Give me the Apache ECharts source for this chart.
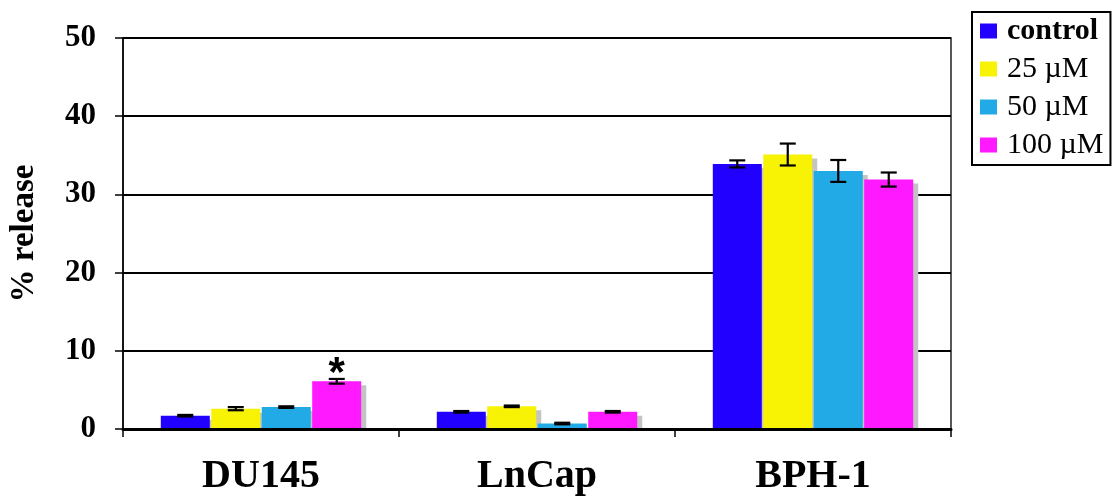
<!DOCTYPE html>
<html>
<head>
<meta charset="utf-8">
<script src="https://cdn.jsdelivr.net/npm/echarts@6/dist/echarts.min.js"></script>
<style>
  html, body { margin: 0; padding: 0; background: #fff; }
  #chart { width: 1117px; height: 497px; }
</style>
</head>
<body>
<div id="chart"></div>
<script>
// Cell lines on the x axis
const categories = ['DU145', 'LnCap', 'BPH-1'];
// Treatment groups (legend)
const seriesNames = ['control', '25 µM', '50 µM', '100 µM'];
// Mean % release per cell line
const controlValues = [1.7, 2.2, 33.9];
const uM25Values = [2.6, 2.9, 35.1];
const uM50Values = [2.8, 0.7, 33.0];
const uM100Values = [6.1, 2.2, 31.9];
// Error (± half-range) per cell line
const controlErr = [0.1, 0.1, 0.45];
const uM25Err = [0.2, 0.1, 1.4];
const uM50Err = [0.1, 0.1, 1.4];
const uM100Err = [0.3, 0.1, 0.9];
// Y axis ticks
const yTicks = [0, 10, 20, 30, 40, 50];

const colors = ['#2200FF', '#F8F205', '#22AAE6', '#FF19FF'];
const allValues = [controlValues, uM25Values, uM50Values, uM100Values];
const allErr = [controlErr, uM25Err, uM50Err, uM100Err];

const BAR_W = 49;
const BAR_GAP_PX = 1.5;
const FONT = '"Liberation Serif", "Times New Roman", serif';

// horizontal centre of bar s within a category whose centre is cx
function barCenter(cx, s) {
  const n = seriesNames.length;
  const total = n * BAR_W + (n - 1) * BAR_GAP_PX;
  return cx - total / 2 + s * (BAR_W + BAR_GAP_PX) + BAR_W / 2;
}

const barSeries = seriesNames.map((name, s) => ({
  name: name,
  type: 'bar',
  barWidth: BAR_W,
  barGap: '3%',
  data: allValues[s].map((v, c) => {
    const item = { value: v };
    // significance marker above DU145 at 100 µM
    if (s === 3 && c === 0) {
      item.label = {
        show: true,
        position: 'top',
        formatter: '*',
        distance: 0,
        offset: [0, 14],
        fontFamily: '"Liberation Sans", Arial, sans-serif',
        fontWeight: 'bold',
        fontSize: 42,
        lineHeight: 42,
        color: '#000'
      };
    }
    return item;
  }),
  itemStyle: { color: colors[s] },
  z: 3
}));

// flat grey drop shadows behind each bar, resting on the baseline
const shadowData = [];
allValues.forEach((vals, s) => {
  vals.forEach((v, c) => shadowData.push([c, s, v]));
});
const shadowSeries = {
  type: 'custom',
  name: 'shadow',
  data: shadowData,
  z: 2,
  silent: true,
  renderItem: function (params, api) {
    const c = api.value(0);
    const s = api.value(1);
    const top = api.coord([c, api.value(2)]);
    const base = api.coord([c, 0]);
    const x = barCenter(top[0], s) - BAR_W / 2 + 5;
    const y = top[1] + 4;
    return {
      type: 'rect',
      shape: { x: x, y: y, width: BAR_W, height: Math.max(0, base[1] - y) },
      style: { fill: '#C4C4C4' }
    };
  }
};

// error bars: [category index, series index, low, high]
const errData = [];
allValues.forEach((vals, s) => {
  vals.forEach((v, c) => {
    errData.push([c, s, v - allErr[s][c], v + allErr[s][c]]);
  });
});

const errorSeries = {
  type: 'custom',
  name: 'error',
  data: errData,
  z: 5,
  silent: true,
  renderItem: function (params, api) {
    const c = api.value(0);
    const s = api.value(1);
    const lo = api.coord([c, api.value(2)]);
    const hi = api.coord([c, api.value(3)]);
    const x = barCenter(lo[0], s);
    const cap = 8;
    const style = { stroke: '#000', lineWidth: 2.2, fill: null };
    return {
      type: 'group',
      children: [
        { type: 'line', shape: { x1: x, y1: lo[1], x2: x, y2: hi[1] }, style: style },
        { type: 'line', shape: { x1: x - cap, y1: lo[1], x2: x + cap, y2: lo[1] }, style: style },
        { type: 'line', shape: { x1: x - cap, y1: hi[1], x2: x + cap, y2: hi[1] }, style: style }
      ]
    };
  }
};

const chart = echarts.init(document.getElementById('chart'), null, { renderer: 'canvas' });
chart.setOption({
  animation: false,
  backgroundColor: '#fff',
  grid: {
    left: 121, right: 166, top: 38, bottom: 68,
    show: true, borderColor: '#222', borderWidth: 1.5, backgroundColor: 'transparent'
  },
  legend: {
    data: seriesNames,
    orient: 'vertical',
    left: 972,
    top: 12,
    padding: [4, 7, 5, 8],
    itemGap: 8,
    itemWidth: 17,
    itemHeight: 15,
    icon: 'rect',
    borderColor: '#000',
    borderWidth: 2,
    formatter: function (name) {
      return name === 'control' ? '{b|' + name + '}' : '{r|' + name + '}';
    },
    textStyle: {
      fontFamily: FONT,
      color: '#000',
      padding: [0, 0, 0, 5],
      rich: {
        b: { fontFamily: FONT, fontWeight: 'bold', fontSize: 30, color: '#000', height: 30 },
        r: { fontFamily: FONT, fontWeight: 'normal', fontSize: 30, color: '#000', height: 30 }
      }
    }
  },
  xAxis: {
    type: 'category',
    data: categories,
    z: 4,
    axisLine: { lineStyle: { color: '#000', width: 3 } },
    axisTick: { show: true, length: 8, lineStyle: { color: '#000', width: 1.5 } },
    axisLabel: {
      margin: 28,
      fontFamily: FONT,
      fontWeight: 'bold',
      fontSize: 40,
      color: '#000'
    }
  },
  yAxis: {
    type: 'value',
    min: yTicks[0],
    max: yTicks[yTicks.length - 1],
    interval: yTicks[1] - yTicks[0],
    name: '% release',
    nameLocation: 'middle',
    nameGap: 82,
    nameRotate: 90,
    nameTextStyle: {
      fontFamily: FONT,
      fontWeight: 'bold',
      fontSize: 33,
      color: '#000'
    },
    axisLine: { show: true, lineStyle: { color: '#000', width: 1.5 } },
    axisTick: { show: true, length: 8, lineStyle: { color: '#000', width: 1.5 } },
    splitLine: { lineStyle: { color: '#000', width: 2 } },
    axisLabel: {
      margin: 27,
      fontFamily: FONT,
      fontWeight: 'bold',
      fontSize: 31,
      color: '#000'
    }
  },
  series: barSeries.concat([shadowSeries, errorSeries])
});
</script>
</body>
</html>
